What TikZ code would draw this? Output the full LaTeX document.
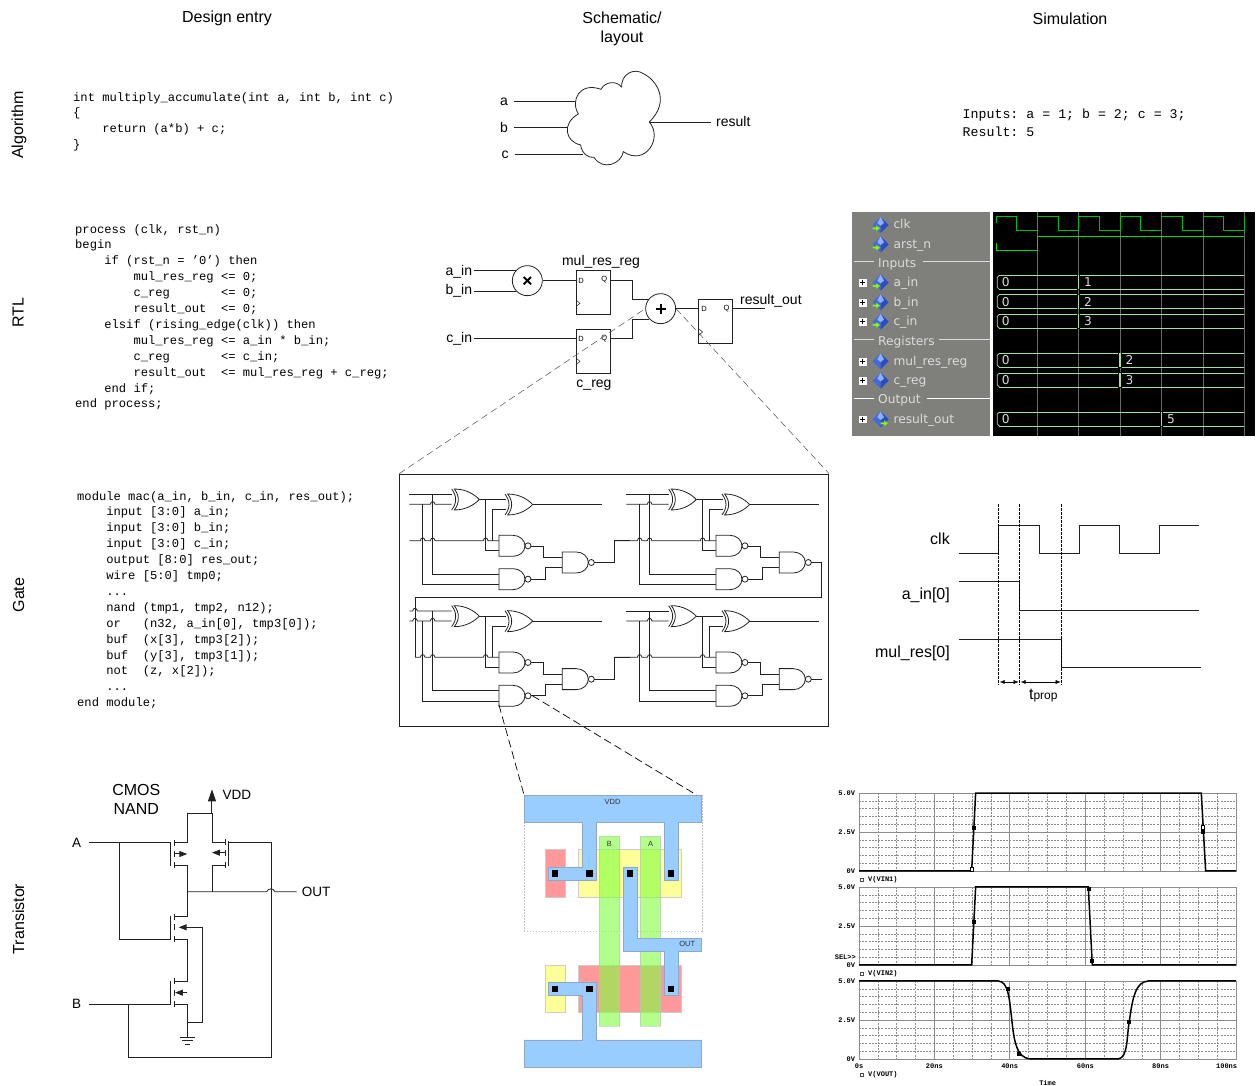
\documentclass[tikz,border=0pt]{standalone}
\usepackage{fontspec}
\setmainfont{Liberation Sans}
\setmonofont{Liberation Mono}
\newfontfamily\panelfont{DejaVu Sans}
\usetikzlibrary{arrows.meta}
\definecolor{panelgray}{HTML}{7F7F7B}
\definecolor{paneltext}{HTML}{DCDCDC}
\definecolor{clkgreen}{HTML}{00C000}
\definecolor{rstgreen}{HTML}{00E000}
\definecolor{busgreen}{HTML}{A4E0A4}
\definecolor{gridgray}{HTML}{6A6A6A}
\definecolor{metal}{HTML}{99CCFF}
\definecolor{metaledge}{HTML}{8FA8C8}
\definecolor{poly}{HTML}{80FF40}
\definecolor{ndiff}{HTML}{FF9999}
\definecolor{pdiff}{HTML}{FFFF99}
\definecolor{simgrid}{HTML}{8C8C8C}
\definecolor{wire}{HTML}{222222}
\definecolor{iconlight}{HTML}{8FB0FF}
\definecolor{iconmid}{HTML}{3F6BE0}
\definecolor{icondark}{HTML}{2A4CC8}
\definecolor{iconarrow}{HTML}{7CFC1E}
\tikzset{
  hdr/.style={font=\fontsize{16}{19}\selectfont,inner sep=0pt,align=center},
  lab/.style={font=\fontsize{14}{16}\selectfont,inner sep=0pt},
  rowlab/.style={font=\fontsize{16}{18}\selectfont,inner sep=0pt,rotate=90},
  tranlab/.style={font=\fontsize{13.5}{16}\selectfont,inner sep=0pt},
  timelab/.style={font=\fontsize{16}{18}\selectfont,inner sep=0pt,anchor=east},
  code/.style={font=\fontsize{12.15}{15.9}\selectfont\ttfamily,inner sep=0pt,align=left,anchor=north west},
  wirep/.style={draw=wire,line width=0.8pt},
  zoomline/.style={dash pattern=on 7pt off 4pt,draw=black!70,line width=0.5pt},
  zoomdark/.style={dash pattern=on 8pt off 4pt,draw=black,line width=0.7pt},
  ffbox/.style={draw=wire,line width=0.8pt,minimum width=34pt,minimum height=43.5pt,inner sep=0pt},
  opnode/.style={circle,draw=wire,line width=0.8pt,minimum size=30pt,inner sep=0pt},
  ffpin/.style={font=\fontsize{7.5}{8}\selectfont,inner sep=0pt},
  paneltxt/.style={font=\panelfont\fontsize{12.2}{14}\selectfont,text=paneltext,inner sep=0pt,anchor=base west},
  sim/.style={font=\fontsize{7}{8}\selectfont\ttfamily\bfseries,inner sep=0pt},
  metalp/.style={fill=metal,draw=metaledge,line width=0.4pt},
  difp/.style={line width=0.4pt,draw=black!20},
  polyp/.style={fill=poly,fill opacity=0.6,draw=black!25,draw opacity=0.6,line width=0.4pt},
  laytxt/.style={font=\fontsize{7.5}{8}\selectfont,inner sep=0pt,text=black!80},
  ttip/.style={-{Triangle[length=8pt,width=6pt]}},
}
% hop of a horizontal wire over a vertical wire
\newcommand\hop[2]{-- (#1-7,#2) .. controls (#1-5,#2-11) and (#1+5,#2-11) .. (#1+7,#2)}
% gates: left x, top y
\newcommand\xorgate[2]{%
  \draw[wirep,fill=white] (#1+8,#2) .. controls (#1+45,#2) and (#1+70,#2+18) .. (#1+83,#2+31.5)
     .. controls (#1+70,#2+45) and (#1+45,#2+63) .. (#1+8,#2+63)
     .. controls (#1+24,#2+42) and (#1+24,#2+21) .. (#1+8,#2) -- cycle;
  \draw[wirep] (#1,#2) .. controls (#1+16,#2+21) and (#1+16,#2+42) .. (#1,#2+63);
}
\newcommand\nandgate[2]{%
  \draw[wirep,fill=white] (#1,#2) -- (#1+42,#2) .. controls (#1+62,#2) and (#1+78,#2+14) .. (#1+78,#2+31.5)
     .. controls (#1+78,#2+49) and (#1+62,#2+63) .. (#1+42,#2+63) -- (#1,#2+63) -- cycle;
  \draw[wirep,fill=white] (#1+87,#2+31.5) circle[radius=3pt];
}
% one bit slice: offset x, offset y, start of carry wire, hops for inputs
\newcommand\bitslice[5]{%
  \begin{scope}[shift={(#1,#2)}]
    \draw[wirep] (28,73) #4 -- (155,73);
    \draw[wirep] (28,103) #5 \hop{98}{103} -- (155,103);
    \draw[wirep] (#3,212) \hop{68}{212} \hop{98}{212} \hop{257}{212} -- (297,212);
    \draw[wirep] (98,73) -- (98,312) -- (297,312);
    \draw[wirep] (68,103) -- (68,343) -- (297,343);
    \draw[wirep] (238,88) -- (318,88);
    \draw[wirep] (257,88) -- (257,242) -- (297,242);
    \draw[wirep] (277,212) -- (277,118) -- (318,118);
    \draw[wirep] (397,103) -- (607,103);
    \draw[wirep] (394,228) -- (430,228) -- (430,263) -- (487,263);
    \draw[wirep] (394,327) -- (437,327) -- (437,293) -- (487,293);
    \xorgate{155}{57}
    \xorgate{315}{72}
    \nandgate{297}{196}
    \nandgate{297}{296}
    \nandgate{487}{246}
  \end{scope}
}
% waveform panel rows
\newcommand\wicon[2]{%
  \fill[iconmid] (#1-24,#2) -- (#1,#2-24) -- (#1,#2+24) -- cycle;
  \fill[icondark] (#1,#2-24) -- (#1+24,#2) -- (#1,#2+24) -- cycle;
  \fill[iconlight] (#1-10,#2-6) -- (#1,#2-24) -- (#1+10,#2-6) -- (#1,#2+2) -- cycle;
}
\newcommand\warrow[2]{%
  \fill[iconarrow,draw=black!50,line width=0.2pt] (#1,#2-3) -- (#1+10,#2-3) -- (#1+10,#2-9) -- (#1+23,#2) -- (#1+10,#2+9) -- (#1+10,#2+3) -- (#1,#2+3) -- cycle;
}
\newcommand\wplus[2]{%
  \draw[black!50,line width=0.5pt] (#1+14,#2) -- (#1+30,#2);
  \fill[white,draw=black!50,line width=0.3pt] (#1-14,#2-13) rectangle (#1+14,#2+13);
  \draw[black,line width=0.9pt] (#1-7,#2) -- (#1+7,#2) (#1,#2-7) -- (#1,#2+7);
}
\newcommand\busrow[4]{%
  \draw[busgreen,line width=0.7pt] (448,#1) -- (1183,#1) (448,#1+42) -- (1183,#1+42);
  \draw[busgreen,line width=0.7pt] (448,#1) -- (442,#1+6) -- (442,#1+36) -- (448,#1+42);
  \draw[black,line width=1.6pt] (#2-5,#1) -- (#2+5,#1) (#2-5,#1+42) -- (#2+5,#1+42);
  \draw[busgreen,line width=1.2pt] (#2,#1) -- (#2,#1+42);
  \node[paneltxt] (#4a) at (455,#1+35) {0};
  \node[paneltxt] (#4b) at (#2+16,#1+35) {#3};
}
\newcommand\simplot[1]{%
  \foreach \k in {1,2,3,4,6,7,8,9}
    \draw[simgrid,line width=0.45pt,dash pattern=on 2pt off 1.2pt] (87,#1+23.4*\k) -- (1218,#1+23.4*\k);
  \foreach \k in {1,2,3,5,6,7,9,10,11,13,14,15,17,18,19}
    \draw[simgrid,line width=0.45pt,dash pattern=on 2pt off 1.2pt] (87+56.55*\k,#1) -- (87+56.55*\k,#1+234);
  \foreach \k in {4,8,12,16}
    \draw[simgrid,line width=0.6pt] (87+56.55*\k,#1) -- (87+56.55*\k,#1+234);
  \draw[simgrid,line width=0.6pt] (87,#1+117) -- (1218,#1+117);
  \draw[simgrid,line width=0.8pt] (87,#1) rectangle (1218,#1+234);
  \node[sim,anchor=east] at (76,#1) {5.0V};
  \node[sim,anchor=east] at (76,#1+117) {2.5V};
  \node[sim,anchor=east] at (76,#1+234) {0V};
}
\newcommand\simmark[2]{\fill[black] (#1-6,#2-6) rectangle (#1+6,#2+6);}
\newcommand\simlegend[2]{%
  \draw[black!70,line width=0.4pt] (91,#1-4) rectangle (100,#1+4);
  \node[sim,anchor=west] at (114,#1) {#2};
}
\begin{document}
\begin{tikzpicture}[x=1pt,y=-1pt]
\useasboundingbox (0,0) rectangle (1259,1086);
% headers
\node[hdr] (h1) at (227,18.5) {Design entry};
\node[hdr] (h2) at (622,29) {Schematic/\\layout};
\node[hdr] (h3) at (1070,19) {Simulation};
\node[rowlab] (r1) at (19,125) {Algorithm};
\node[rowlab] (r2) at (18,313) {RTL};
\node[rowlab] (r3) at (18.5,595) {Gate};
\node[rowlab] (r4) at (18.5,919) {Transistor};
% code
\node[code] (c1) at (73,92) {int multiply\_accumulate(int a, int b, int c)\\
\{\\
\ \ \ \ return (a*b) + c;\\
\}};
\node[code] (c2) at (75,224) {process (clk, rst\_n)\\
begin\\
\ \ \ \ if (rst\_n = ’0’) then\\
\ \ \ \ \ \ \ \ mul\_res\_reg <= 0;\\
\ \ \ \ \ \ \ \ c\_reg\ \ \ \ \ \ \ <= 0;\\
\ \ \ \ \ \ \ \ result\_out\ \ <= 0;\\
\ \ \ \ elsif (rising\_edge(clk)) then\\
\ \ \ \ \ \ \ \ mul\_res\_reg <= a\_in * b\_in;\\
\ \ \ \ \ \ \ \ c\_reg\ \ \ \ \ \ \ <= c\_in;\\
\ \ \ \ \ \ \ \ result\_out\ \ <= mul\_res\_reg + c\_reg;\\
\ \ \ \ end if;\\
end process;};
\node[code] (c3) at (77,491) {module mac(a\_in, b\_in, c\_in, res\_out);\\
\ \ \ \ input [3:0] a\_in;\\
\ \ \ \ input [3:0] b\_in;\\
\ \ \ \ input [3:0] c\_in;\\
\ \ \ \ output [8:0] res\_out;\\
\ \ \ \ wire [5:0] tmp0;\\
\ \ \ \ ...\\
\ \ \ \ nand (tmp1, tmp2, n12);\\
\ \ \ \ or\ \ \ (n32, a\_in[0], tmp3[0]);\\
\ \ \ \ buf\ \ (x[3], tmp3[2]);\\
\ \ \ \ buf\ \ (y[3], tmp3[1]);\\
\ \ \ \ not\ \ (z, x[2]);\\
\ \ \ \ ...\\
end module;};
\node[code,font=\fontsize{13.27}{18}\selectfont\ttfamily] (c4) at (962.5,108.5) {Inputs: a = 1; b = 2; c = 3;\\
Result: 5};
% cloud
\begin{scope}[shift={(490,60)},x=0.3333pt,y=-0.3333pt]
  \coordinate (cla) at (255,124);
  \coordinate (clb) at (232,203);
  \coordinate (clc) at (280,282);
  \coordinate (clr) at (478,186);
  \node[lab] (na) at (42,124) {a};
  \node[lab] (nb) at (42,203) {b};
  \node[lab] (nc) at (45,283) {c};
  \node[lab,anchor=west] (nr) at (678,186) {result};
  \draw[wirep] (395,82) .. controls (392,45) and (430,20) .. (462,42)
     .. controls (495,58) and (545,120) .. (478,186)
     .. controls (520,235) and (465,320) .. (400,275)
     .. controls (395,310) and (340,335) .. (312,292)
     .. controls (295,295) and (275,280) .. (272,255)
     .. controls (225,245) and (215,190) .. (265,162)
     .. controls (240,120) and (270,65) .. (333,88)
     .. controls (345,65) and (380,60) .. (395,82);
  \draw[wirep] ([xshift=6pt]na.east |- cla) -- (cla);
  \draw[wirep] ([xshift=6pt]nb.east |- clb) -- (clb);
  \draw[wirep] ([xshift=6pt]nc.east |- clc) -- (clc);
  \draw[wirep] (clr) -- ([xshift=-5pt]nr.west |- clr);
\end{scope}
% RTL
\begin{scope}[shift={(430,240)},x=0.3333pt,y=-0.3333pt]
  \node[lab,anchor=east] (ain) at (127,94) {a\_in};
  \node[lab,anchor=east] (bin) at (127,151) {b\_in};
  \node[lab,anchor=east] (cin) at (127,297) {c\_in};
  \node[opnode] (mulop) at (292,122) {};
  \draw[line width=2pt] (mulop.center) ++(-11,-11) -- ++(22,22) (mulop.center) ++(-11,11) -- ++(22,-22);
  \node[opnode] (addop) at (692,206) {};
  \draw[line width=2pt] (addop.center) ++(-15,0) -- ++(30,0) (addop.center) ++(0,-15) -- ++(0,30);
  \node[ffbox] (ff1) at (489,157) {};
  \node[ffbox] (ff2) at (489,334) {};
  \node[ffbox] (ff3) at (857,244) {};
  \node[lab] (l1) at (513,65) {mul\_res\_reg};
  \node[lab] (l2) at (492,436) {c\_reg};
  \node[lab,anchor=west] (l3) at (930,181) {result\_out};
  \node[ffpin] (d1) at (453,122) {D};
  \node[ffpin] (q1) at (523,120) {Q};
  \node[ffpin] (d2) at (453,297) {D};
  \node[ffpin] (q2) at (523,296) {Q};
  \node[ffpin] (d3) at (822,206) {D};
  \node[ffpin] (q3) at (890,206) {Q};
  \coordinate (qx1) at (608,122);
  \coordinate (qx2) at (608,296);
  \coordinate (rout) at (1005,206);
  \draw[wirep] ([xshift=2pt]ain.east |- mulop.138) -- (mulop.138);
  \draw[wirep] ([xshift=2pt]bin.east |- mulop.222) -- (mulop.222);
  \draw[wirep] ([xshift=2pt]cin.east |- qx2) -- (ff2.west |- qx2);
  \draw[wirep] (mulop.east) -- (ff1.west |- mulop.east);
  \draw[wirep] (ff1.east |- qx1) -- (qx1) |- (addop.142);
  \draw[wirep] (ff2.east |- qx2) -- (qx2) |- (addop.222);
  \draw[wirep] (addop.east) -- (ff3.west |- addop.east);
  \draw[wirep] (ff3.east |- rout) -- (rout);
  \foreach \xx/\yy in {438/190,438/364,806/276}
    \draw[wirep,line width=0.5pt] (\xx,\yy-10) -- (\xx+12,\yy) -- (\xx,\yy+10);
\end{scope}
% gate box and zoom lines
\node[draw=wire,line width=0.8pt,minimum width=429pt,minimum height=252pt,inner sep=0pt] (gatebox) at (614.2,600) {};
\draw[zoomline] (gatebox.north west) -- (addop.west);
\draw[zoomline] (addop.east) -- (gatebox.north east);
\begin{scope}[shift={(400,470)},x=0.3333pt,y=-0.3333pt]
  \bitslice{0}{0}{28}{}{}
  \bitslice{651}{0}{-8}{}{}
  \bitslice{0}{350}{45}{\hop{45}{73}}{\hop{45}{103}}
  \bitslice{651}{350}{-8}{}{}
  \draw[wirep] (583,277) -- (643,277) -- (643,212) -- (690,212);
  \draw[wirep] (1234,277) -- (1265,277) -- (1265,382) -- (45,382) -- (45,562);
  \draw[wirep] (583,627) -- (643,627) -- (643,562) -- (690,562);
  \draw[wirep] (1234,627) -- (1265,627);
  \coordinate (ng1) at (297,705);
  \coordinate (ng2) at (397,677);
\end{scope}
% layout
\begin{scope}[shift={(515,785)},x=0.3333pt,y=-0.3333pt]
  \draw[black!25,line width=0.3pt,dash pattern=on 1.5pt off 1.5pt] (28,31) rectangle (560,438);
  \fill[ndiff,difp] (90,194) rectangle (152,337);
  \fill[pdiff,difp] (191,194) rectangle (499,337);
  \fill[pdiff,difp] (90,542) rectangle (152,683);
  \fill[ndiff,difp] (191,542) rectangle (499,683);
  \path[polyp] (253,154) rectangle (314,724);
  \path[polyp] (376,154) rectangle (437,724);
  \node[fill=metal,inner sep=0pt,minimum width=177.3pt,minimum height=27pt] (vddbar) at (294,71.5) {};
  \path[metalp] (28,31) -- (560,31) -- (560,112) -- (489,112) -- (489,287) -- (448,287) -- (448,112) -- (243,112) -- (243,287) -- (100,287) -- (100,246) -- (202,246) -- (202,112) -- (28,112) -- cycle;
  \path[metalp] (325,246) -- (366,246) -- (366,460) -- (560,460) -- (560,500) -- (489,500) -- (489,631) -- (448,631) -- (448,500) -- (325,500) -- cycle;
  \path[metalp] (100,591) -- (243,591) -- (243,765) -- (560,765) -- (560,846) -- (28,846) -- (28,765) -- (202,765) -- (202,631) -- (100,631) -- cycle;
  \foreach \cx/\cy in {120/265,223/265,345/265,468/265,120/612,223/612,468/612}
    \fill[black] (\cx-10,\cy-10) rectangle (\cx+10,\cy+10);
  \node[laytxt] (tvdd) at (293,52) {VDD};
  \node[laytxt] (tb) at (283,177) {B};
  \node[laytxt] (ta) at (407,177) {A};
  \node[laytxt] (tout) at (517,478) {OUT};
\end{scope}
\draw[zoomdark] (ng1) -- (vddbar.north west);
\draw[zoomdark] (ng2) -- ([xshift=-5pt]vddbar.north east);
% waveform panel
\begin{scope}[shift={(850,210)},x=0.3333pt,y=-0.3333pt]
  \fill[panelgray] (6,6) rectangle (420,678);
  \fill[black] (428,6) rectangle (1215,678);
  \foreach \gx in {562,686,810,935,1059,1183}
    \draw[gridgray,line width=0.6pt] (\gx,6) -- (\gx,678);
  \draw[clkgreen,line width=0.9pt] (439,40) -- (439,20) -- (500,20) -- (500,62) -- (562,62) -- (562,20) -- (624,20) -- (624,62) -- (686,62) -- (686,20) -- (748,20) -- (748,62) -- (810,62) -- (810,20) -- (872,20) -- (872,62) -- (935,62) -- (935,20) -- (997,20) -- (997,62) -- (1059,62) -- (1059,20) -- (1121,20) -- (1121,62) -- (1183,62) -- (1183,20);
  \draw[rstgreen,line width=0.9pt] (439,98) -- (439,122) -- (562,122) -- (562,78) -- (1183,78);
  \busrow{196}{686}{1}{ba}
  \busrow{254}{686}{2}{bb}
  \busrow{313}{686}{3}{bc}
  \busrow{430}{810}{2}{bm}
  \busrow{489}{810}{3}{br}
  \busrow{606}{935}{5}{bo}
  \wicon{92}{45}\warrow{68}{55}
  \wicon{92}{103}\warrow{68}{113}
  \foreach \ry in {218,277,335} {
    \wplus{37}{\ry}
    \wicon{92}{\ry}\warrow{68}{\ry+10}
  }
  \foreach \ry in {454,512} {
    \wplus{37}{\ry}
    \wicon{92}{\ry}
  }
  \wplus{37}{628}
  \wicon{92}{628}\warrow{92}{640}
  \node[paneltxt] (pclk) at (130,55) {clk};
  \node[paneltxt] (prst) at (130,115) {arst\_n};
  \node[paneltxt] (pin) at (84,173) {Inputs};
  \node[paneltxt] (pa) at (130,231) {a\_in};
  \node[paneltxt] (pb) at (130,290) {b\_in};
  \node[paneltxt] (pc) at (130,348) {c\_in};
  \node[paneltxt] (preg) at (84,407) {Registers};
  \node[paneltxt] (pm) at (130,467) {mul\_res\_reg};
  \node[paneltxt] (pr) at (130,525) {c\_reg};
  \node[paneltxt] (pout) at (84,582) {Output};
  \node[paneltxt] (po) at (130,641) {result\_out};
  \draw[paneltext,line width=0.6pt] (12,155) -- (72,155) (218,155) -- (420,155);
  \draw[paneltext,line width=0.6pt] (12,389) -- (72,389) (268,389) -- (420,389);
  \draw[white,line width=0.6pt] (12,565) -- (72,565) (230,565) -- (420,565);
\end{scope}
% timing diagram
\begin{scope}[shift={(870,495)},x=0.3333pt,y=-0.3333pt]
  \node[timelab] (tclk) at (240,130) {clk};
  \node[timelab] (tain) at (240,300) {a\_in[0]};
  \node[timelab] (tmul) at (240,476) {mul\_res[0]};
  \draw[wirep] (266,175) -- (386,175) -- (386,90) -- (507,90) -- (507,175) -- (627,175) -- (627,90) -- (747,90) -- (747,175) -- (868,175) -- (868,90) -- (988,90);
  \draw[wirep] (266,260) -- (449,260) -- (449,346) -- (988,346);
  \draw[wirep] (266,432) -- (575,432) -- (575,518) -- (993,518);
  \foreach \dx in {386,449,575}
    \draw[black,line width=0.5pt,dash pattern=on 2.5pt off 1.5pt] (\dx,28) -- (\dx,570);
  \draw[{Latex[length=5pt,width=4pt]}-{Latex[length=5pt,width=4pt]},line width=0.5pt] (389,561) -- (446,561);
  \draw[{Latex[length=5pt,width=4pt]}-{Latex[length=5pt,width=4pt]},line width=0.5pt] (452,561) -- (572,561);
  \node[inner sep=0pt,font=\fontsize{16}{18}\selectfont] (tprop) at (520,602) {t{\fontsize{12}{14}\selectfont prop}};
\end{scope}
% CMOS NAND
\begin{scope}[shift={(60,780)},x=0.3333pt,y=-0.3333pt]
  \node[hdr] (tcmos) at (229,58) {CMOS\\NAND};
  \node[tranlab,anchor=west] (tvd) at (487,44) {VDD};
  \node[tranlab] (ta2) at (50,190) {A};
  \node[tranlab] (tb2) at (50,672) {B};
  \node[tranlab,anchor=west] (tou) at (725,337) {OUT};
  \draw[wirep] (382,188) -- (382,100) -- (456,100);
  \draw[wirep,line width=1pt,-{Triangle[length=12pt,width=8pt]}] (456,100) -- (456,28);
  \draw[wirep] (456,100) -- (456,186) -- (497,186);
  \draw[wirep] (342,188) -- (382,188);
  \draw[wirep] (342,256) -- (382,256) -- (382,410) -- (342,410);
  \draw[wirep] (342,478) -- (382,478) -- (382,604) -- (342,604);
  \draw[wirep] (342,672) -- (382,672) -- (382,772);
  \draw[wirep] (382,727) -- (427,727) -- (427,442) -- (372,442);
  \draw[wirep] (497,256) -- (456,256) -- (456,335);
  \draw[wirep] (382,335) -- (456,335) -- (620,335) .. controls (625,324) and (640,324) .. (645,335) -- (710,335);
  % gates
  \draw[wirep] ([xshift=8pt]ta2.east |- 0,188) -- (332,188);
  \draw[wirep] ([xshift=8pt]tb2.east |- 0,672) -- (332,672);
  \draw[wirep] (178,188) -- (178,478) -- (332,478);
  \draw[wirep] (506,186) -- (633,186) -- (633,832) -- (205,832) -- (205,672);
  \draw[wirep,line width=1.1pt] (332,186) -- (332,258) (506,184) -- (506,258) (332,408) -- (332,478) (332,602) -- (332,672);
  \foreach \mx/\my in {342/188,342/222,342/256,342/410,342/442,342/478,342/604,342/638,342/672,497/186,497/218,497/256}
    \draw[wirep,line width=0.9pt] (\mx,\my-9) -- (\mx,\my+9);
  \draw[wirep,line width=1pt,ttip] (342,222) -- (382,222);
  \draw[wirep,line width=1pt,ttip] (497,218) -- (456,218);
  \draw[wirep,line width=1pt,ttip] (382,442) -- (356,442);
  \draw[wirep,line width=1pt,ttip] (382,638) -- (345,638);
  \draw[wirep] (360,772) -- (405,772) (367,782) -- (398,782) (375,792) -- (390,792);
\end{scope}
% simulation plots
\begin{scope}[shift={(830,785)},x=0.3333pt,y=-0.3333pt]
  \simplot{24}
  \simplot{306}
  \simplot{588}
  \draw[black,line width=1.5pt] (87,258) -- (425,258) -- (437,24) -- (1114,24) -- (1127,258) -- (1218,258);
  \draw[black,line width=1.5pt] (87,540) -- (425,540) -- (437,306) -- (775,306) -- (787,540) -- (1218,540);
  \draw[black,line width=1.5pt] (87,588) -- (505,588) .. controls (535,590) and (538,640) .. (545,700) .. controls (552,770) and (560,818) .. (600,822) -- (865,822) .. controls (895,818) and (890,750) .. (898,710) .. controls (908,635) and (918,590) .. (955,588) -- (1218,588);
  \simmark{432}{129}
  \draw[black,line width=0.4pt,fill=white] (421,248) rectangle (431,258);
  \simmark{1120}{141}
  \draw[black,line width=0.4pt,fill=white] (1114,122) rectangle (1124,132);
  \simmark{432}{411}
  \simmark{777}{312}
  \simmark{787}{527}
  \simmark{534}{612}
  \simmark{566}{806}
  \simmark{897}{711}
  \simlegend{284}{V(VIN1)}
  \simlegend{566}{V(VIN2)}
  \simlegend{870}{V(VOUT)}
  \node[sim,anchor=east] (sel) at (78,517) {SEL>>};
  \node[sim] (x0) at (87,845) {0s};
  \node[sim] (x1) at (313,845) {20ns};
  \node[sim] (x2) at (539,845) {40ns};
  \node[sim] (x3) at (766,845) {60ns};
  \node[sim] (x4) at (992,845) {80ns};
  \node[sim] (x5) at (1190,845) {100ns};
  \node[sim] (xt) at (653,893) {Time};
\end{scope}
\end{tikzpicture}
\end{document}
